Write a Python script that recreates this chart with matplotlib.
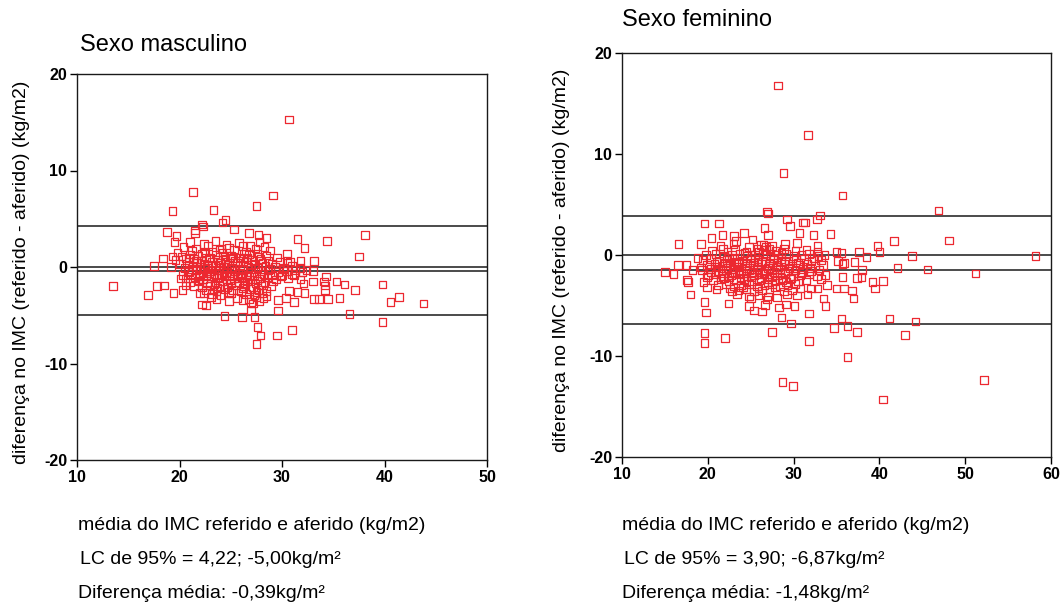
import matplotlib
matplotlib.use("Agg")
import matplotlib.pyplot as plt

plt.rcParams['font.family'] = ['Liberation Sans', 'DejaVu Sans']
plt.rcParams['axes.unicode_minus'] = False

# ---- Sexo masculino: mean BMI (x) vs. difference reported - measured (y)
male_mean = [
    30.7, 21.3, 29.1, 27.5, 19.3, 23.3, 24.5, 24.2, 22.2, 22.3, 18.8, 19.7, 19.5, 21.5, 21.5,
    25.3, 26.8, 27.7, 28.5, 27.8, 31.5, 32.2, 34.4, 38.1, 37.5, 30.5, 31.8, 33.1, 18.4, 17.5,
    19.3, 13.5, 16.9, 17.8, 18.5, 19.4, 20.3, 20.6, 20.1, 22.0, 22.2, 22.6, 23.1, 23.3, 24.8,
    24.4, 26.1, 27.0, 27.3, 27.6, 27.9, 27.5, 29.5, 31.0, 29.6, 29.6, 30.4, 31.2, 30.7, 31.5,
    32.2, 32.1, 33.0, 33.1, 33.6, 34.5, 35.6, 34.2, 34.1, 34.3, 34.2, 35.3, 36.1, 36.6, 37.1,
    39.8, 39.8, 40.6, 41.4, 43.8, 33.0, 32.4, 31.8, 30.5, 30.8, 30.2, 31.8, 31.2,
    # dense centre
    21.0, 22.4, 23.5, 24.6, 25.8, 26.9,
    20.4, 21.6, 22.8, 23.9, 24.8, 26.2, 27.4, 28.3,
    19.8, 21.2, 22.2, 23.2, 24.2, 25.3, 26.5, 27.6, 28.8,
    20.2, 21.0, 21.8, 22.6, 23.5, 24.4, 25.0, 25.9, 26.8, 27.7, 28.5, 29.5,
    19.6, 20.6, 21.4, 22.1, 22.9, 23.7, 24.5, 25.4, 26.2, 27.1, 27.9, 28.7,
    20.0, 20.9, 21.7, 22.4, 23.2, 24.0, 24.8, 25.6, 26.5, 27.3, 28.1, 29.0, 29.8,
    19.2, 20.5, 21.3, 22.0, 22.8, 23.5, 24.3, 25.1, 25.9, 26.7, 27.6, 28.4, 29.3, 30.1, 31.0,
    20.8, 21.6, 22.3, 23.0, 23.8, 24.6, 25.4, 26.2, 27.0, 27.9, 28.7, 29.6, 30.5, 31.3, 32.0,
    20.3, 21.1, 21.9, 22.6, 23.4, 24.1, 24.9, 25.7, 26.5, 27.3, 28.2, 29.0, 30.0, 31.0,
    20.6, 21.5, 22.3, 23.1, 23.8, 24.6, 25.3, 26.1, 26.9, 27.8, 28.6, 29.4, 30.6,
    21.0, 21.9, 22.7, 23.5, 24.2, 25.0, 25.8, 26.6, 27.4, 28.3, 29.1,
    21.4, 22.2, 23.0, 23.9, 24.7, 25.5, 26.3, 27.2, 28.0, 28.9,
    22.6, 23.6, 24.4, 25.2, 26.0, 26.9, 27.7, 28.5,
    23.2, 24.0, 25.0, 26.5, 27.3, 28.1,
    25.6, 26.8, 27.5, 28.2, 27.0, 27.8,
    21.2, 22.5, 23.9, 25.0, 26.1, 27.4, 28.8, 22.0, 23.3, 24.4, 25.6, 26.8, 28.0,
    20.9, 23.0, 24.9, 26.6,
    21.6, 22.5, 23.8, 24.1, 25.2, 25.9, 26.3, 27.0, 22.9, 24.3, 21.8, 23.4, 24.9, 26.4, 27.6,
    22.4, 24.8, 26.2, 27.5, 23.6, 26.2, 28.5, 27.2, 26.0, 23.7, 25.3, 22.7, 24.5, 20.9, 29.9,
]
male_diff = [
    15.3, 7.8, 7.4, 6.3, 5.8, 5.9, 4.9, 4.6, 4.4, 4.2, 3.6, 3.2, 2.6, 3.8, 3.5,
    3.9, 3.5, 3.3, 3.0, 2.6, 2.9, 2.0, 2.7, 3.3, 1.1, 1.4, 0.65, 0.65, 0.9, 0.1,
    1.1, -2.0, -2.9, -2.0, -1.9, -2.7, -2.4, -1.9, -1.2, -2.7, -3.9, -4.0, -3.1, -2.4, -3.5,
    -5.1, -5.2, -4.5, -5.2, -6.2, -7.1, -8.0, -7.1, -6.5, -4.5, -3.4, -3.2, -3.6, -2.5, -2.6,
    -2.7, -1.7, -1.5, -3.3, -3.3, -3.3, -3.2, -2.4, -1.5, -1.0, -1.9, -1.5, -1.8, -4.9, -2.4,
    -1.8, -5.7, -3.6, -3.1, -3.8, -0.4, -0.3, -0.1, 0.4, 0.55, -0.2, -1.3, -0.9,
    # dense centre
    2.6, 2.4, 2.7, 2.3, 2.5, 2.2,
    2.1, 1.9, 2.2, 1.8, 2.0, 2.2, 1.9, 2.1,
    1.5, 1.7, 1.4, 1.6, 1.5, 1.8, 1.6, 1.4, 1.7,
    1.1, 1.3, 1.2, 1.0, 1.3, 1.1, 1.2, 1.0, 1.3, 1.1, 1.2, 1.0,
    0.7, 0.9, 0.8, 0.6, 0.9, 0.7, 0.8, 0.6, 0.9, 0.7, 0.8, 0.6,
    0.3, 0.5, 0.4, 0.3, 0.5, 0.4, 0.2, 0.4, 0.5, 0.3, 0.4, 0.3, 0.5,
    0.0, -0.1, 0.1, 0.0, -0.1, 0.1, 0.0, -0.1, 0.1, 0.0, -0.1, 0.1, 0.0, -0.1, 0.1,
    -0.4, -0.3, -0.5, -0.4, -0.3, -0.5, -0.4, -0.3, -0.5, -0.4, -0.3, -0.5, -0.4, -0.3, -0.5,
    -0.8, -0.7, -0.9, -0.8, -0.7, -0.9, -0.8, -0.7, -0.9, -0.8, -0.7, -0.9, -0.8, -0.7,
    -1.2, -1.1, -1.3, -1.2, -1.1, -1.3, -1.2, -1.1, -1.3, -1.2, -1.1, -1.3, -1.2,
    -1.6, -1.5, -1.7, -1.6, -1.5, -1.7, -1.6, -1.5, -1.7, -1.6, -1.5,
    -2.0, -2.1, -1.9, -2.0, -2.1, -1.9, -2.0, -2.1, -1.9, -2.0,
    -2.4, -2.5, -2.3, -2.4, -2.5, -2.3, -2.4, -2.5,
    -2.8, -2.9, -2.7, -2.8, -2.9, -2.7,
    -3.2, -3.3, -3.1, -3.2, -3.6, -3.5,
    -0.2, -0.2, -0.1, -0.2, -0.2, -0.2, -0.2, -1.0, -1.0, -1.0, -1.0, -1.0, -1.0,
    1.0, 1.0, 1.0, 1.0,
    0.6, 1.5, 0.2, 1.9, 0.9, -0.6, 1.4, 0.2, -0.6, -0.6, -1.4, -1.8, -1.4, -1.8, -1.4,
    -2.7, -2.6, -2.2, -2.6, -3.3, -3.4, -3.0, -3.8, -0.9, -2.2, -0.2, 0.1, 0.5, -0.5, -1.0,
]

# ---- Sexo feminino
female_mean = [
    28.2, 31.7, 28.8, 35.7, 46.9, 26.9, 27.0, 33.1, 32.7, 29.2, 31.1, 31.3, 19.6, 21.3, 29.6,
    26.6, 24.2, 34.3, 32.3, 21.7, 23.05, 27.0, 30.7, 20.45, 25.2, 41.7, 48.1, 16.6, 19.2, 23.3,
    30.4, 32.8, 39.8, 40.0, 37.6, 38.5, 43.8, 58.2, 35.0, 35.6,
    15.0, 16.0, 16.5, 17.5, 17.6, 17.7, 18.0, 18.2, 18.8, 19.2, 19.5, 19.9, 19.9, 19.6, 19.8,
    19.6, 19.6, 22.0, 22.4, 24.8, 25.4, 26.3, 26.9, 26.7, 27.5, 28.1, 28.3, 28.6, 29.1, 30.1,
    29.7, 28.7, 29.9, 31.8, 31.8, 31.6, 32.0, 32.8, 33.5, 33.7, 33.9, 33.7, 33.2, 35.0, 35.9,
    35.7, 35.6, 34.7, 36.3, 36.3, 36.8, 37.0, 37.1, 37.4, 37.9, 38.0, 37.4, 39.2, 39.5, 40.4,
    40.4, 41.2, 42.1, 43.0, 44.2, 45.6, 51.2, 52.2, 35.7, 35.2, 35.9,
    # dense centre
    21.5, 23.0, 24.8, 26.2, 27.5, 29.0,
    20.5, 21.8, 23.2, 24.5, 25.8, 26.8, 27.9, 28.9, 30.2, 31.5, 32.8,
    19.8, 20.9, 21.9, 22.8, 23.7, 24.6, 25.5, 26.4, 27.3, 28.2, 29.1, 30.0, 30.9, 31.8, 32.9, 33.6,
    19.4, 20.4, 21.3, 22.2, 23.1, 24.0, 24.9, 25.8, 26.7, 27.6, 28.5, 29.4, 30.3, 31.2, 32.1, 33.2,
    19.9, 20.8, 21.7, 22.6, 23.5, 24.4, 25.3, 26.2, 27.1, 28.0, 28.9, 29.8, 30.7, 31.6, 32.5, 33.4,
    19.3, 20.3, 21.2, 22.1, 23.0, 23.9, 24.8, 25.7, 26.6, 27.5, 28.4, 29.3, 30.2, 31.1, 32.0, 33.0,
    20.0, 20.9, 21.8, 22.7, 23.6, 24.5, 25.4, 26.3, 27.2, 28.1, 29.0, 29.9, 30.8, 31.8, 32.7,
    20.6, 21.5, 22.4, 23.3, 24.2, 25.1, 26.0, 26.9, 27.8, 28.7, 29.6, 30.5, 31.5,
    21.2, 22.1, 23.0, 23.9, 24.8, 25.7, 26.6, 27.5, 28.4, 29.3, 30.2,
    21.0, 22.8, 23.6, 24.5, 25.4, 26.3, 27.2, 28.9, 29.8,
    23.4, 24.8, 25.9, 27.0, 29.2, 30.4,
    21.0, 22.3, 23.4, 24.6, 25.8, 27.0, 28.2, 29.5, 21.6, 22.9, 24.1, 25.2, 26.5, 27.7, 29.0,
    22.0, 23.3, 24.6, 25.9, 27.2, 28.5, 22.5, 23.8, 25.0, 26.2, 27.5, 28.6, 26.8, 26.5, 27.2,
    21.0, 22.5, 23.6, 25.0, 26.3, 27.7, 29.0, 30.5, 21.9, 23.2, 24.5, 25.9, 27.0, 28.4, 29.7,
    31.0, 22.6, 24.1, 25.9, 27.8, 29.1, 30.8, 24.3, 26.0, 28.6, 20.4, 31.9, 32.4, 22.3, 25.0,
]
female_diff = [
    16.8, 11.9, 8.1, 5.9, 4.4, 4.3, 4.1, 3.9, 3.5, 3.5, 3.2, 3.2, 3.1, 3.1, 2.9,
    2.7, 2.2, 2.1, 2.0, 2.0, 1.9, 2.0, 2.2, 1.7, 1.55, 1.4, 1.45, 1.1, 1.1, 1.4,
    1.2, 0.9, 0.9, 0.3, 0.3, -0.2, -0.1, -0.1, 0.3, 0.2,
    -1.7, -1.9, -1.0, -1.0, -2.5, -2.7, -3.9, -1.5, -0.3, -1.25, -2.7, -2.2, -3.2, -4.65, -5.7,
    -7.7, -8.7, -8.2, -4.8, -5.05, -5.5, -5.6, -4.4, -4.95, -7.6, -4.2, -5.2, -6.2, -4.9, -5.05,
    -6.8, -12.6, -13.0, -5.8, -8.5, -3.9, -3.3, -3.3, -4.3, -5.05, -3.0, -2.0, -2.4, -3.3, -3.3,
    -2.2, -6.3, -7.2, -7.0, -10.1, -3.5, -4.3, -0.7, -2.3, -2.2, -1.5, -7.6, -2.7, -3.3, -2.6,
    -14.3, -6.3, -1.3, -7.9, -6.6, -1.45, -1.85, -12.4, -0.9, -0.6, -0.8,
    # dense centre
    0.9, 1.1, 0.8, 1.0, 0.9, 1.1,
    0.4, 0.6, 0.5, 0.3, 0.6, 0.5, 0.4, 0.6, 0.4, 0.5, 0.3,
    0.0, 0.1, -0.1, 0.0, 0.1, -0.1, 0.0, 0.1, -0.1, 0.0, 0.1, -0.1, 0.0, 0.1, -0.1, 0.0,
    -0.5, -0.4, -0.6, -0.5, -0.4, -0.6, -0.5, -0.4, -0.6, -0.5, -0.4, -0.6, -0.5, -0.4, -0.6, -0.5,
    -1.0, -0.9, -1.1, -1.0, -0.9, -1.1, -1.0, -0.9, -1.1, -1.0, -0.9, -1.1, -1.0, -0.9, -1.1, -1.0,
    -1.5, -1.4, -1.6, -1.5, -1.4, -1.6, -1.5, -1.4, -1.6, -1.5, -1.4, -1.6, -1.5, -1.4, -1.6, -1.5,
    -2.0, -1.9, -2.1, -2.0, -1.9, -2.1, -2.0, -1.9, -2.1, -2.0, -1.9, -2.1, -2.0, -1.9, -2.1,
    -2.5, -2.4, -2.6, -2.5, -2.4, -2.6, -2.5, -2.4, -2.6, -2.5, -2.4, -2.6, -2.5,
    -3.0, -2.9, -3.1, -3.0, -2.9, -3.1, -3.0, -2.9, -3.1, -3.0, -2.9,
    -3.4, -3.6, -3.5, -3.4, -3.6, -3.5, -3.4, -3.6, -3.5,
    -3.9, -4.1, -4.0, -4.1, -3.9, -4.0,
    -1.2, -1.3, -1.2, -1.3, -1.2, -1.3, -1.2, -1.3, -1.8, -1.7, -1.8, -1.7, -1.8, -1.7, -1.8,
    -0.8, -0.7, -0.8, -0.7, -0.8, -0.7, -2.2, -2.3, -2.2, -2.3, -2.2, -2.3, 0.8, 1.0, 0.6,
    -0.7, -0.3, -0.8, -0.3, -0.7, -0.3, -0.6, -0.8, -2.3, -1.8, -2.6, -1.9, -2.7, -1.8, -2.3,
    -1.7, -3.3, -3.2, -3.3, -3.2, -2.7, -3.3, 0.2, 0.3, 0.2, -1.7, -1.3, -0.3, 0.3, -4.3,
]

# Mean difference and 95% limits of agreement
male_upper, male_bias, male_lower = 4.22, -0.39, -5.00
female_upper, female_bias, female_lower = 3.90, -1.48, -6.87

panel_titles = ["Sexo masculino", "Sexo feminino"]
x_label = "média do IMC referido e aferido (kg/m2)"
y_label = "diferença no IMC (referido - aferido) (kg/m2)"
male_notes = ["LC de 95% = 4,22; -5,00kg/m²", "Diferença média: -0,39kg/m²"]
female_notes = ["LC de 95% = 3,90; -6,87kg/m²", "Diferença média: -1,48kg/m²"]

W, H = 1064, 607
fig = plt.figure(figsize=(W / 100, H / 100), dpi=100)


def px_axes(x0, y0, x1, y1):
    return fig.add_axes([x0 / W, 1 - y1 / H, (x1 - x0) / W, (y1 - y0) / H])


def draw_panel(ax, xs, ys, lines, xlim, xticks):
    ax.scatter(xs, ys, marker='s', s=30, facecolors='none',
               edgecolors='#ec2830', linewidths=0.9, zorder=3)
    for v in lines:
        ax.axhline(v, color='#1a1a1a', lw=1.1, zorder=2)
    ax.set_xlim(*xlim)
    ax.set_ylim(-20, 20)
    ax.set_xticks(xticks)
    ax.set_yticks([-20, -10, 0, 10, 20])
    ax.tick_params(direction='out', length=5, width=1.0, labelsize=11.5, pad=2)
    for lab in ax.get_xticklabels() + ax.get_yticklabels():
        lab.set_fontweight('bold')
    for sp in ax.spines.values():
        sp.set_linewidth(1.0)
        sp.set_color('#1a1a1a')


ax1 = px_axes(77, 74, 487, 460)
draw_panel(ax1, male_mean, male_diff, [male_upper, 0, male_bias, male_lower],
           (10, 50), [10, 20, 30, 40, 50])
ax2 = px_axes(622, 53, 1051, 457)
draw_panel(ax2, female_mean, female_diff, [female_upper, 0, female_bias, female_lower],
           (10, 60), [10, 20, 30, 40, 50, 60])

# Panel titles
fig.text(80 / W, 1 - 45 / H, panel_titles[0], fontsize=17, va='center', ha='left')
fig.text(622 / W, 1 - 20 / H, panel_titles[1], fontsize=17, va='center', ha='left')

# Vertical axis labels
fig.text(22 / W, 1 - 272 / H, y_label, fontsize=14, rotation=90, va='center', ha='center')
fig.text(562 / W, 1 - 260 / H, y_label, fontsize=14, rotation=90, va='center', ha='center')

# Captions under each panel
for x0, notes in [(78, male_notes), (622, female_notes)]:
    fig.text(x0 / W, 1 - 525 / H, x_label, fontsize=14, va='center', ha='left')
    fig.text((x0 + 2) / W, 1 - 559 / H, notes[0], fontsize=14, va='center', ha='left')
    fig.text(x0 / W, 1 - 593 / H, notes[1], fontsize=14, va='center', ha='left')

fig.savefig("out.png", dpi=100)
